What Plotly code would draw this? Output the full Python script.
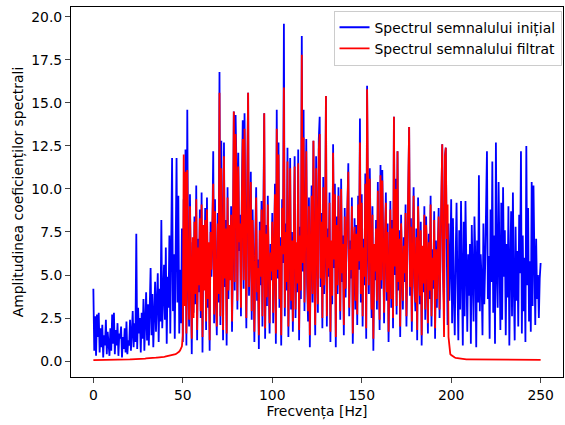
import numpy as np
import plotly.graph_objects as go

FREQ_STEP = 0.5  # Hz between spectral bins

# Amplitude of the original signal spectrum (0 .. 250 Hz, 0.5 Hz step)
spec_initial = [
    4.2, 0.6, 2.6, 0.3, 2.7, 1.4, 2.8, 0.5, 1.9, 0.8, 2.1, 0.2, 1.5, 0.9, 2.4, 0.4, 1.7, 1.1, 0.3, 1.9,
    0.6, 2.7, 1.0, 2.8, 0.4, 1.8, 0.9, 2.2, 0.3, 1.6, 1.3, 2.0, 0.2, 1.4, 0.7, 1.9, 0.5, 2.3, 0.4, 1.2,
    0.9, 2.4, 0.6, 1.7, 2.9, 0.8, 2.2, 1.1, 7.4, 0.7, 3.1, 1.6, 2.5, 0.5, 2.8, 1.3, 3.6, 0.6, 2.0, 4.0,
    1.2, 3.3, 0.9, 2.6, 5.4, 1.5, 3.9, 0.8, 2.7, 4.6, 1.7, 3.0, 5.1, 1.1, 4.2, 2.3, 8.2, 1.9, 3.5, 5.6,
    2.4, 6.6, 1.0, 4.9, 3.1, 7.3, 1.6, 5.8, 11.8, 2.9, 6.2, 1.3, 8.9, 11.8, 3.4, 9.6, 1.6, 5.3, 2.2, 7.7,
    1.1, 9.4, 3.6, 12.3, 0.9, 14.6, 4.5, 2.0, 9.7, 5.1, 0.4, 6.9, 2.8, 8.4, 3.3, 10.2, 1.2, 7.1, 4.0, 8.8,
    2.5, 9.8, 0.5, 7.4, 4.6, 8.9, 1.8, 9.5, 3.1, 6.5, 0.6, 8.1, 4.9, 7.4, 12.2, 2.2, 9.4, 3.7, 1.5, 8.6,
    3.4, 16.8, 2.1, 12.8, 5.9, 1.2, 12.7, 4.3, 8.2, 0.9, 10.1, 3.6, 7.4, 5.2, 9.0, 1.7, 6.3, 14.5, 4.1, 14.3,
    11.2, 3.0, 12.1, 6.4, 8.5, 2.6, 9.9, 14.0, 4.2, 14.4, 7.6, 1.9, 10.5, 15.6, 3.8, 6.7, 11.0, 2.4, 8.8, 5.5,
    1.1, 7.3, 10.1, 3.5, 5.9, 0.7, 8.1, 4.4, 9.3, 2.0, 6.6, 14.4, 1.3, 7.9, 3.2, 9.6, 5.0, 1.6, 6.8, 4.7,
    8.6, 2.2, 6.0, 10.3, 1.0, 14.6, 4.8, 12.7, 3.1, 7.2, 0.9, 9.4, 5.7, 19.6, 2.6, 8.0, 4.1, 12.4, 1.4, 6.7,
    11.8, 3.0, 7.5, 1.7, 9.2, 11.9, 2.5, 6.4, 4.0, 12.3, 1.2, 7.8, 3.6, 18.9, 5.2, 14.6, 2.9, 8.3, 12.9, 4.5,
    2.3, 9.5, 0.8, 6.1, 10.2, 3.4, 12.8, 5.6, 1.5, 11.9, 7.0, 2.8, 12.9, 14.2, 4.3, 8.6, 1.9, 10.7, 3.9, 6.2,
    15.4, 2.0, 7.7, 4.9, 9.8, 1.1, 6.5, 3.3, 12.6, 5.4, 10.3, 0.8, 8.4, 3.9, 10.1, 6.0, 2.4, 10.6, 4.6, 7.3,
    1.5, 8.9, 3.7, 6.4, 9.2, 11.5, 2.6, 7.0, 4.8, 9.5, 1.0, 6.6, 8.3, 3.0, 7.9, 2.1, 9.6, 5.3, 14.1, 3.4,
    9.7, 2.0, 7.1, 4.4, 10.9, 1.3, 16.0, 6.8, 3.9, 11.2, 7.5, 2.5, 9.0, 0.6, 6.3, 4.7, 8.2, 3.0, 10.4, 5.8,
    1.8, 11.4, 4.2, 11.1, 7.4, 2.2, 6.9, 9.8, 3.5, 8.0, 1.1, 5.6, 9.3, 3.1, 8.2, 1.9, 14.2, 5.0, 10.6, 2.7,
    12.2, 4.1, 7.6, 1.4, 8.5, 5.3, 3.0, 7.2, 4.6, 9.1, 2.0, 6.0, 12.5, 13.6, 3.8, 8.3, 1.7, 6.8, 10.1, 4.3,
    2.9, 7.7, 1.2, 9.5, 5.0, 3.3, 8.1, 0.9, 6.2, 4.0, 9.0, 2.4, 8.4, 5.9, 1.6, 7.4, 3.6, 9.6, 2.0, 6.5,
    4.2, 8.7, 1.3, 7.0, 3.1, 6.3, 8.9, 2.5, 5.4, 10.1, 12.6, 4.8, 3.2, 11.9, 12.4, 6.6, 2.1, 8.0, 3.5, 5.6,
    9.4, 2.2, 8.3, 3.8, 1.5, 6.0, 9.2, 4.5, 1.2, 7.6, 3.0, 9.3, 5.5, 0.9, 8.1, 2.6, 9.3, 4.4, 1.7, 6.2,
    3.8, 6.8, 1.0, 7.9, 4.1, 2.3, 8.4, 6.0, 0.8, 7.0, 3.4, 10.8, 2.9, 6.2, 4.7, 1.5, 8.0, 3.3, 5.6, 9.0,
    12.2, 3.6, 6.1, 1.3, 8.8, 4.6, 11.6, 2.8, 7.3, 1.0, 12.7, 5.2, 3.1, 10.4, 6.7, 1.8, 9.2, 2.4, 10.1, 4.9,
    7.6, 1.5, 6.8, 3.7, 9.0, 0.9, 5.4, 8.7, 2.6, 9.8, 4.3, 1.2, 7.8, 3.5, 6.4, 2.0, 8.5, 5.1, 12.2, 1.6,
    7.3, 2.9, 6.0, 1.1, 12.5, 4.4, 8.9, 2.3, 5.8, 1.7, 10.4, 3.2, 10.2, 4.7, 2.1, 7.1, 3.6, 5.0, 2.5, 4.8,
    5.7,
]

# Amplitude of the filtered signal spectrum (band-pass 50 .. 200 Hz)
spec_filtered = [
    0.05, 0.05, 0.05, 0.05, 0.05, 0.05, 0.05, 0.05, 0.05, 0.05, 0.06, 0.06, 0.06, 0.06, 0.06, 0.06, 0.06, 0.06, 0.06, 0.06,
    0.06, 0.06, 0.06, 0.07, 0.07, 0.07, 0.07, 0.07, 0.07, 0.07, 0.07, 0.08, 0.08, 0.08, 0.08, 0.08, 0.08, 0.09, 0.09, 0.09,
    0.09, 0.09, 0.10, 0.10, 0.10, 0.10, 0.11, 0.11, 0.11, 0.11, 0.12, 0.12, 0.12, 0.13, 0.13, 0.13, 0.14, 0.14, 0.14, 0.15,
    0.15, 0.15, 0.16, 0.16, 0.17, 0.17, 0.17, 0.18, 0.18, 0.19, 0.19, 0.20, 0.20, 0.21, 0.21, 0.22, 0.22, 0.23, 0.24, 0.24,
    0.25, 0.26, 0.27, 0.27, 0.28, 0.29, 0.30, 0.31, 0.33, 0.34, 0.36, 0.38, 0.40, 0.43, 0.46, 0.50, 0.55, 0.62, 0.70, 0.85,
    1.5, 12.0, 3.2, 11.0, 1.6, 11.1, 4.9, 2.4, 9.0, 5.6, 1.3, 7.2, 2.5, 8.1, 3.9, 9.4, 1.8, 6.6, 4.4, 8.3,
    2.9, 9.1, 1.4, 7.9, 4.1, 8.2, 2.3, 8.8, 3.6, 6.9, 1.2, 7.5, 5.3, 7.9, 10.3, 2.7, 8.7, 4.2, 2.0, 8.0,
    3.9, 15.6, 2.6, 11.2, 6.3, 1.8, 11.9, 4.8, 7.7, 1.6, 9.5, 4.1, 7.9, 4.7, 8.5, 2.3, 6.8, 14.5, 4.6, 13.2,
    10.6, 3.5, 11.3, 6.9, 8.0, 3.1, 9.3, 12.9, 4.7, 13.5, 7.1, 2.5, 10.0, 15.6, 4.3, 6.2, 10.4, 2.9, 8.2, 6.0,
    1.7, 7.8, 9.5, 4.0, 5.4, 1.5, 7.6, 4.9, 8.8, 2.6, 6.1, 14.4, 1.9, 7.4, 3.7, 9.1, 5.5, 2.2, 6.3, 5.2,
    8.1, 2.8, 6.5, 9.7, 1.6, 13.5, 5.3, 12.0, 3.6, 6.7, 1.5, 8.9, 6.2, 15.9, 3.1, 7.5, 4.6, 11.6, 2.0, 7.2,
    11.2, 3.5, 7.0, 2.3, 8.7, 11.3, 3.0, 6.9, 4.5, 11.5, 1.8, 7.3, 4.1, 17.8, 5.7, 13.0, 3.4, 7.8, 12.2, 5.0,
    2.9, 9.0, 1.5, 6.6, 9.6, 3.9, 12.8, 5.1, 2.1, 11.2, 7.5, 3.3, 12.3, 13.2, 4.8, 8.1, 2.5, 10.1, 4.4, 6.7,
    15.4, 2.6, 7.2, 5.4, 9.2, 1.7, 7.0, 3.8, 12.1, 5.9, 9.7, 1.4, 7.9, 4.4, 9.6, 6.5, 2.9, 10.0, 5.1, 6.8,
    2.1, 8.4, 4.2, 6.9, 8.7, 11.0, 3.1, 6.5, 5.3, 9.0, 1.6, 7.1, 7.8, 3.5, 7.4, 2.7, 9.1, 5.8, 12.7, 3.9,
    9.2, 2.6, 6.6, 4.9, 10.3, 1.9, 15.8, 7.3, 4.4, 10.6, 7.0, 3.0, 8.5, 1.3, 6.8, 5.2, 7.7, 3.5, 9.9, 6.3,
    2.4, 10.8, 4.7, 10.5, 6.9, 2.8, 7.4, 9.2, 4.0, 7.5, 1.7, 6.1, 8.8, 3.6, 7.7, 2.5, 14.2, 5.5, 10.0, 3.2,
    12.2, 4.6, 7.1, 2.0, 8.0, 5.8, 3.5, 6.7, 5.1, 8.6, 2.6, 6.5, 11.8, 13.6, 4.3, 7.8, 2.3, 6.3, 9.6, 4.8,
    3.4, 7.2, 1.8, 9.0, 5.5, 3.8, 7.6, 1.5, 6.7, 4.5, 8.5, 3.0, 7.9, 6.4, 2.2, 6.9, 4.1, 9.1, 2.6, 6.0,
    4.7, 8.2, 1.9, 6.5, 3.6, 6.8, 8.4, 3.0, 5.9, 9.6, 12.6, 5.3, 1.4, 11.9, 12.4, 7.1, 9.1, 1.4, 0.6, 0.4,
    0.35, 0.30, 0.26, 0.23, 0.20, 0.18, 0.17, 0.16, 0.15, 0.14, 0.13, 0.13, 0.12, 0.12, 0.11, 0.11, 0.11, 0.10, 0.10, 0.10,
    0.10, 0.10, 0.09, 0.09, 0.09, 0.09, 0.09, 0.09, 0.09, 0.08, 0.08, 0.08, 0.08, 0.08, 0.08, 0.08, 0.08, 0.08, 0.08, 0.08,
    0.08, 0.08, 0.08, 0.08, 0.08, 0.08, 0.08, 0.08, 0.08, 0.08, 0.08, 0.08, 0.08, 0.08, 0.08, 0.08, 0.08, 0.08, 0.08, 0.08,
    0.08, 0.08, 0.08, 0.08, 0.08, 0.08, 0.08, 0.07, 0.07, 0.07, 0.07, 0.07, 0.07, 0.07, 0.07, 0.07, 0.07, 0.07, 0.07, 0.07,
    0.07, 0.07, 0.07, 0.07, 0.07, 0.07, 0.07, 0.07, 0.07, 0.07, 0.07, 0.07, 0.07, 0.07, 0.07, 0.07, 0.07, 0.07, 0.07, 0.07,
    0.07,
]

freq = np.arange(len(spec_initial)) * FREQ_STEP

x_ticks = [0, 50, 100, 150, 200, 250]
y_ticks = [0.0, 2.5, 5.0, 7.5, 10.0, 12.5, 15.0, 17.5, 20.0]

labels = ["Spectrul semnalului inițial", "Spectrul semnalului filtrat"]

FONT = "DejaVu Sans"
FS = 13.9

fig = go.Figure()
fig.add_trace(go.Scatter(x=freq, y=spec_initial, mode="lines",
                         line=dict(color="#0000ff", width=1.8), name=labels[0]))
fig.add_trace(go.Scatter(x=freq, y=spec_filtered, mode="lines",
                         line=dict(color="#ff0000", width=1.8), name=labels[1]))

fig.update_layout(
    width=565, height=425,
    margin=dict(l=71, r=2, t=7, b=48, autoexpand=False),
    paper_bgcolor="white", plot_bgcolor="white",
    font=dict(family=FONT, size=FS, color="black"),
    showlegend=True,
    legend=dict(x=0.997, y=0.99, xanchor="right", yanchor="top",
                bgcolor="rgba(255,255,255,0.8)", bordercolor="#cccccc", borderwidth=1,
                font=dict(family=FONT, size=FS), tracegroupgap=0,
                itemwidth=30),
)
fig.update_xaxes(
    range=[-12.5, 262.5], tickvals=x_ticks, ticks="outside", ticklen=5,
    showline=True, linecolor="black", linewidth=1, mirror=True,
    showgrid=False, zeroline=False, automargin=False,
    title=dict(text="Frecvența [Hz]", standoff=4, font=dict(family=FONT, size=FS)),
)
fig.update_yaxes(
    range=[-0.93, 20.58], tickvals=y_ticks, tickformat=".1f", ticks="outside", ticklen=5,
    showline=True, linecolor="black", linewidth=1, mirror=True,
    showgrid=False, zeroline=False, automargin=False,
    title=dict(text="Amplitudinea coeficienților spectrali", standoff=4, font=dict(family=FONT, size=FS)),
)

fig.write_html("out.html", config={"displayModeBar": False},
               post_script="document.body.style.margin='0';document.body.style.overflow='hidden';")
